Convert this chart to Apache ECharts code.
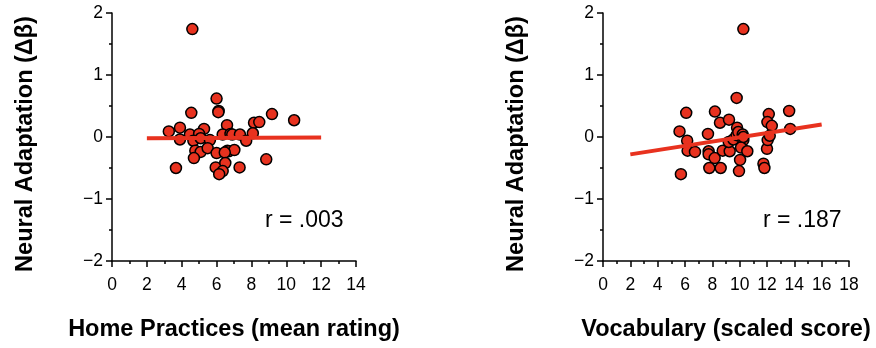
<!DOCTYPE html>
<html><head><meta charset="utf-8">
<script src="https://cdn.jsdelivr.net/npm/echarts@6/dist/echarts.min.js"></script>
<style>html,body{margin:0;padding:0;background:#fff}#c{width:876px;height:348px}</style>
</head><body><div id="c"></div>
<script>
// Home Practices panel
const homeX = [4.61,6.0,6.12,6.10,4.55,9.18,10.45,8.15,8.45,6.6,3.26,3.9,5.28,4.47,5.0,3.9,4.67,5.09,5.62,6.35,6.8,6.9,7.34,7.7,8.08,4.78,5.09,5.49,6.0,6.62,6.7,7.02,6.47,4.7,8.85,3.67,5.95,6.5,7.32,6.35,6.15];
const homeY = [1.74,0.62,0.42,0.40,0.39,0.37,0.27,0.23,0.24,0.19,0.09,0.15,0.13,0.04,0.05,-0.04,-0.06,-0.02,-0.05,0.04,0.05,0.04,0.04,-0.06,0.06,-0.22,-0.24,-0.18,-0.26,-0.22,-0.23,-0.21,-0.25,-0.34,-0.36,-0.50,-0.49,-0.42,-0.49,-0.55,-0.60];
const homeFit = [[2,-0.02],[12,-0.01]];
const homeR = 'r = .003';
// Vocabulary panel
const vocabX = [10.27,9.78,6.09,8.19,13.62,12.13,12.03,12.35,8.56,9.22,5.6,7.68,9.81,13.7,6.16,6.19,6.73,7.73,7.73,8.17,8.76,9.27,9.2,9.54,9.78,9.9,10.22,10.27,10.1,10.03,10.56,9.95,8.61,7.78,5.7,12.0,12.05,12.2,11.74,11.81,10.27];
const vocabY = [1.74,0.63,0.39,0.41,0.42,0.37,0.24,0.18,0.23,0.28,0.09,0.05,0.15,0.13,-0.06,-0.22,-0.24,-0.23,-0.28,-0.34,-0.22,-0.23,-0.08,-0.04,0.03,0.08,0.04,-0.05,-0.17,-0.37,-0.23,-0.55,-0.50,-0.50,-0.60,-0.19,-0.05,0.02,-0.43,-0.50,0.0];
const vocabFit = [[2,-0.28],[16,0.2]];
const vocabR = 'r = .187';
// Axis settings
const yTicks = [-2,-1,0,1,2];
const homeXRange = [0,14];
const vocabXRange = [0,18];
const xTitles = ['Home Practices (mean rating)','Vocabulary (scaled score)'];
const yTitle = 'Neural Adaptation (\u0394\u03b2)';

const FONT = 'Liberation Sans, Arial, Helvetica, sans-serif';
const RED = '#e8321f';
const zip = (a,b)=>a.map((v,i)=>[v,b[i]]);

function xAxis(idx, range, title){
  return {type:'value', gridIndex:idx, min:range[0], max:range[1], interval:2,
    axisLine:{onZero:false, lineStyle:{color:'#000', width:1.5}},
    axisTick:{show:true, length:6, lineStyle:{color:'#000', width:1.5}},
    minorTick:{show:true, splitNumber:2, length:3, lineStyle:{color:'#000', width:1.5}},
    splitLine:{show:false},
    axisLabel:{color:'#000', fontSize:17.5, fontFamily:FONT, margin:15},
    name:title, nameLocation:'middle', nameGap:57,
    nameTextStyle:{color:'#000', fontSize:23.5, fontWeight:'bold', fontFamily:FONT}};
}
function yAxis(idx){
  return {type:'value', gridIndex:idx, min:yTicks[0], max:yTicks[yTicks.length-1], interval:1,
    axisLine:{show:true, onZero:false, lineStyle:{color:'#000', width:1.5}},
    axisTick:{show:true, length:6, lineStyle:{color:'#000', width:1.5}},
    minorTick:{show:true, splitNumber:2, length:3, lineStyle:{color:'#000', width:1.5}},
    splitLine:{show:false},
    axisLabel:{color:'#000', fontSize:17.5, fontFamily:FONT, margin:9,
      formatter:v=>String(v).replace('-','\u2212')},
    name:yTitle, nameLocation:'middle', nameGap:74, nameRotate:90,
    nameTextStyle:{color:'#000', fontSize:23.5, fontWeight:'bold', fontFamily:FONT, padding:[0,14,0,0]}};
}
function scatter(idx, data){
  return {type:'scatter', xAxisIndex:idx, yAxisIndex:idx, data:data, symbolSize:11, z:3,
    itemStyle:{color:RED, borderColor:'#000', borderWidth:1.5, opacity:1}, silent:true};
}
function fit(idx, data){
  return {type:'line', xAxisIndex:idx, yAxisIndex:idx, data:data, showSymbol:false, z:4,
    lineStyle:{color:RED, width:4}, silent:true};
}

const chart = echarts.init(document.getElementById('c'), null, {renderer:'canvas'});
chart.setOption({
  animation:false,
  backgroundColor:'#fff',
  grid:[{left:112, top:13, width:244, height:248},{left:603, top:13, width:246, height:248}],
  xAxis:[xAxis(0, homeXRange, xTitles[0]), xAxis(1, vocabXRange, xTitles[1])],
  yAxis:[yAxis(0), yAxis(1)],
  series:[scatter(0, zip(homeX,homeY)), fit(0, homeFit), scatter(1, zip(vocabX,vocabY)), fit(1, vocabFit)],
  graphic:[
    {type:'text', left:265, top:209, style:{text:homeR, fontSize:23, fontFamily:FONT, fill:'#000'}},
    {type:'text', left:763, top:209, style:{text:vocabR, fontSize:23, fontFamily:FONT, fill:'#000'}}
  ]
});
</script></body></html>
